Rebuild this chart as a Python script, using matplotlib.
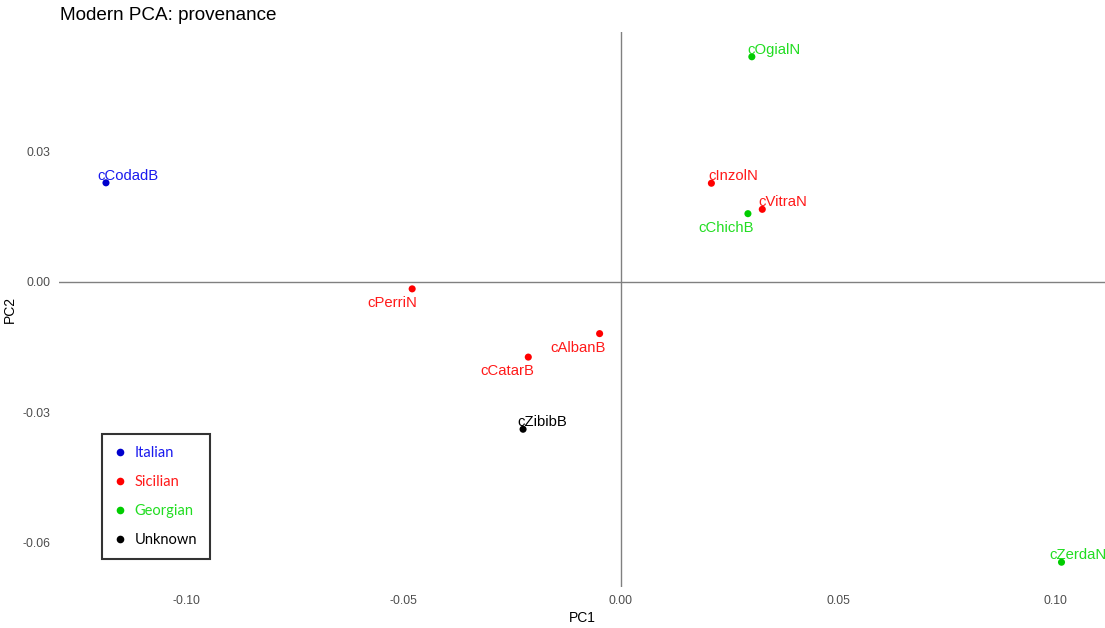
import numpy as np
import matplotlib
matplotlib.use("Agg")
import matplotlib.pyplot as plt
from matplotlib.lines import Line2D

plt.rcParams['font.family'] = ['Liberation Sans', 'DejaVu Sans']

# PCA scores
names = ['cCodadB', 'cOgialN', 'cInzolN', 'cVitraN', 'cChichB',
         'cPerriN', 'cAlbanB', 'cCatarB', 'cZibibB', 'cZerdaN']
pc1 = [-0.1184, 0.0301, 0.0208, 0.0325, 0.0292,
       -0.0480, -0.0049, -0.0213, -0.0225, 0.1013]
pc2 = [0.0228, 0.0518, 0.0227, 0.0167, 0.0157,
       -0.0016, -0.0119, -0.0173, -0.0339, -0.0645]
origin = ['Italian', 'Georgian', 'Sicilian', 'Sicilian', 'Georgian',
          'Sicilian', 'Sicilian', 'Sicilian', 'Unknown', 'Georgian']
# label placement: 'ur' above-right, 'dl' below-left, with a small nudge in px
place = ['ur', 'ur', 'ur', 'ur', 'dl', 'dl', 'dl', 'dl', 'ur', 'ur']
nudge = [-9, -4, -3, -4, 6, 5, 6, 6, -6, -12]

groups = ['Italian', 'Sicilian', 'Georgian', 'Unknown']
colours = {'Italian': '#0000CD', 'Sicilian': '#FF0000',
           'Georgian': '#00CD00', 'Unknown': '#000000'}
text_col = {'Italian': '#1A1AEE', 'Sicilian': '#FF1A1A',
            'Georgian': '#22DD22', 'Unknown': '#000000'}

fig = plt.figure(figsize=(11.05, 6.28), dpi=100)
ax = fig.add_axes([59/1105, 1-587/628, 1-59/1105, (587-32)/628])

ax.set_xlim(-0.1292, 0.1113)
ax.set_ylim(-0.0702, 0.0575)

ax.axhline(0, color='#808080', lw=1, zorder=1)
ax.axvline(0, color='#808080', lw=1, zorder=1)

cols = [colours[o] for o in origin]
ax.scatter(pc1, pc2, c=cols, s=26, zorder=3, linewidths=0)

for n, x, y, o, p, dx in zip(names, pc1, pc2, origin, place, nudge):
    if p == 'ur':
        ax.annotate(n, (x, y), xytext=(dx, 3), textcoords='offset pixels',
                    ha='left', va='baseline', fontsize=10.7, color=text_col[o])
    else:
        ax.annotate(n, (x, y), xytext=(dx, -7), textcoords='offset pixels',
                    ha='right', va='top', fontsize=10.7, color=text_col[o])

ax.set_xticks([-0.10, -0.05, 0.00, 0.05, 0.10])
ax.set_xticklabels(['-0.10', '-0.05', '0.00', '0.05', '0.10'])
ax.set_yticks([-0.06, -0.03, 0.00, 0.03])
ax.set_yticklabels(['-0.06', '-0.03', '0.00', '0.03'])
ax.tick_params(length=0, labelsize=8.8, labelcolor='#4D4D4D', pad=6)
for s in ax.spines.values():
    s.set_visible(False)

ax.set_xlabel('PC1', fontsize=10, labelpad=3)
ax.set_ylabel('PC2', fontsize=10, labelpad=4)
fig.text(60/1105, 1-16/628, 'Modern PCA: provenance', fontsize=13.6, va='center', ha='left')

handles = [Line2D([], [], ls='none', marker='o', ms=5.5, mec='none',
                  mfc=colours[g]) for g in groups]
leg = ax.legend(handles, groups, loc='upper left',
                bbox_to_anchor=(102/1105, 1-434/628), bbox_transform=fig.transFigure,
                borderaxespad=0, fancybox=False, frameon=True, handlelength=0.8,
                handletextpad=0.6, labelspacing=1.02, borderpad=0.85,
                prop={'family': 'Lato', 'size': 10.5})
leg.get_frame().set_edgecolor('black')
leg.get_frame().set_linewidth(1.5)
for t, g in zip(leg.get_texts(), groups):
    t.set_color(text_col[g])

fig.savefig('out.png', dpi=100)
